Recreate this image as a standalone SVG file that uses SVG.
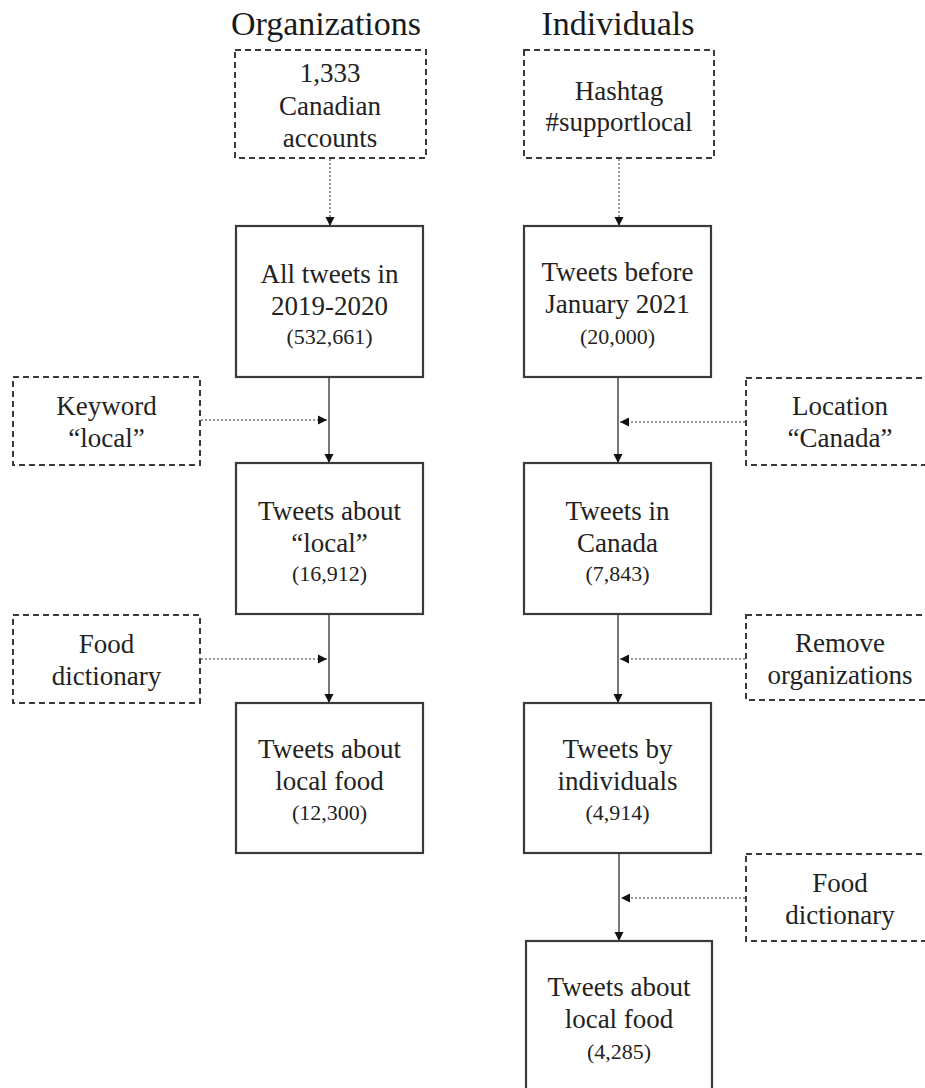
<svg xmlns="http://www.w3.org/2000/svg" width="925" height="1088" viewBox="0 0 925 1088">
  <style>
    .title { font-family: "Liberation Serif", "Times New Roman", serif; font-size: 34px; fill: #1a1a1a; text-anchor: middle; }
    .lbl { font-family: "Liberation Serif", "Times New Roman", serif; font-size: 27px; fill: #222; text-anchor: middle; }
    .cnt { font-family: "Liberation Serif", "Times New Roman", serif; font-size: 22px; fill: #222; text-anchor: middle; }
    .step { fill: #fff; stroke: #3a3a3a; stroke-width: 2.2; }
    .src { fill: #fff; stroke: #3a3a3a; stroke-width: 2; stroke-dasharray: 6 4; }
    .flow { stroke: #555; stroke-width: 1.6; fill: none; }
    .feed { stroke: #999; stroke-width: 2; stroke-dasharray: 2 2; fill: none; }
  </style>
  <defs>
    <marker id="tip" markerUnits="userSpaceOnUse" markerWidth="10" markerHeight="10" refX="9" refY="5" orient="auto">
      <path d="M0,0.5 L9,5 L0,9.5 Z" fill="#111"/>
    </marker>
  </defs>

  <rect width="925" height="1088" fill="#fff"/>

  <text class="title" x="326" y="35">Organizations</text>
  <text class="title" x="618" y="35">Individuals</text>

  <!-- connectors -->
  <g id="connectors">
    <line class="feed" x1="330" y1="159" x2="330" y2="226" marker-end="url(#tip)"/>
    <line class="flow" x1="329" y1="377" x2="329" y2="463" marker-end="url(#tip)"/>
    <line class="feed" x1="201" y1="420" x2="327" y2="420" marker-end="url(#tip)"/>
    <line class="flow" x1="329" y1="614" x2="329" y2="703" marker-end="url(#tip)"/>
    <line class="feed" x1="201" y1="659" x2="327" y2="659" marker-end="url(#tip)"/>

    <line class="feed" x1="619" y1="159" x2="619" y2="226" marker-end="url(#tip)"/>
    <line class="flow" x1="618" y1="377" x2="618" y2="463" marker-end="url(#tip)"/>
    <line class="feed" x1="745" y1="422" x2="620" y2="422" marker-end="url(#tip)"/>
    <line class="flow" x1="618" y1="614" x2="618" y2="703" marker-end="url(#tip)"/>
    <line class="feed" x1="745" y1="659" x2="620" y2="659" marker-end="url(#tip)"/>
    <line class="flow" x1="619" y1="853" x2="619" y2="941" marker-end="url(#tip)"/>
    <line class="feed" x1="745" y1="898" x2="621" y2="898" marker-end="url(#tip)"/>
  </g>

  <!-- organizations column -->
  <g id="org-accounts">
    <rect class="src" x="235" y="50" width="191" height="108"/>
    <text class="lbl" x="330" y="82">1,333</text>
    <text class="lbl" x="330" y="115">Canadian</text>
    <text class="lbl" x="330" y="147">accounts</text>
  </g>
  <g id="org-all">
    <rect class="step" x="236" y="226" width="187" height="151"/>
    <text class="lbl" x="329.5" y="283">All tweets in</text>
    <text class="lbl" x="329.5" y="315">2019-2020</text>
    <text class="cnt" x="329.5" y="344">(532,661)</text>
  </g>
  <g id="org-keyword">
    <rect class="src" x="13" y="377" width="187" height="88"/>
    <text class="lbl" x="106.5" y="415">Keyword</text>
    <text class="lbl" x="106.5" y="447">“local”</text>
  </g>
  <g id="org-local">
    <rect class="step" x="236" y="463" width="187" height="151"/>
    <text class="lbl" x="329.5" y="520">Tweets about</text>
    <text class="lbl" x="329.5" y="552">“local”</text>
    <text class="cnt" x="329.5" y="581">(16,912)</text>
  </g>
  <g id="org-dictionary">
    <rect class="src" x="13" y="615" width="187" height="88"/>
    <text class="lbl" x="106.5" y="653">Food</text>
    <text class="lbl" x="106.5" y="685">dictionary</text>
  </g>
  <g id="org-food">
    <rect class="step" x="236" y="703" width="187" height="150"/>
    <text class="lbl" x="329.5" y="758">Tweets about</text>
    <text class="lbl" x="329.5" y="790">local food</text>
    <text class="cnt" x="329.5" y="820">(12,300)</text>
  </g>

  <!-- individuals column -->
  <g id="ind-hashtag">
    <rect class="src" x="524" y="50" width="190" height="108"/>
    <text class="lbl" x="619" y="100">Hashtag</text>
    <text class="lbl" x="619" y="131">#supportlocal</text>
  </g>
  <g id="ind-all">
    <rect class="step" x="524" y="226" width="187" height="151"/>
    <text class="lbl" x="617.5" y="281">Tweets before</text>
    <text class="lbl" x="617.5" y="313">January 2021</text>
    <text class="cnt" x="617.5" y="344">(20,000)</text>
  </g>
  <g id="ind-location">
    <rect class="src" x="746" y="378" width="187" height="87"/>
    <text class="lbl" x="840" y="415">Location</text>
    <text class="lbl" x="840" y="447">“Canada”</text>
  </g>
  <g id="ind-canada">
    <rect class="step" x="524" y="463" width="187" height="151"/>
    <text class="lbl" x="617.5" y="520">Tweets in</text>
    <text class="lbl" x="617.5" y="552">Canada</text>
    <text class="cnt" x="617.5" y="581">(7,843)</text>
  </g>
  <g id="ind-remove">
    <rect class="src" x="746" y="615" width="187" height="85"/>
    <text class="lbl" x="840" y="652">Remove</text>
    <text class="lbl" x="840" y="684">organizations</text>
  </g>
  <g id="ind-individuals">
    <rect class="step" x="524" y="703" width="187" height="150"/>
    <text class="lbl" x="617.5" y="758">Tweets by</text>
    <text class="lbl" x="617.5" y="790">individuals</text>
    <text class="cnt" x="617.5" y="820">(4,914)</text>
  </g>
  <g id="ind-dictionary">
    <rect class="src" x="746" y="854" width="187" height="87"/>
    <text class="lbl" x="840" y="892">Food</text>
    <text class="lbl" x="840" y="924">dictionary</text>
  </g>
  <g id="ind-food">
    <rect class="step" x="526" y="941" width="186" height="160"/>
    <text class="lbl" x="619" y="996">Tweets about</text>
    <text class="lbl" x="619" y="1028">local food</text>
    <text class="cnt" x="619" y="1059">(4,285)</text>
  </g>
</svg>
